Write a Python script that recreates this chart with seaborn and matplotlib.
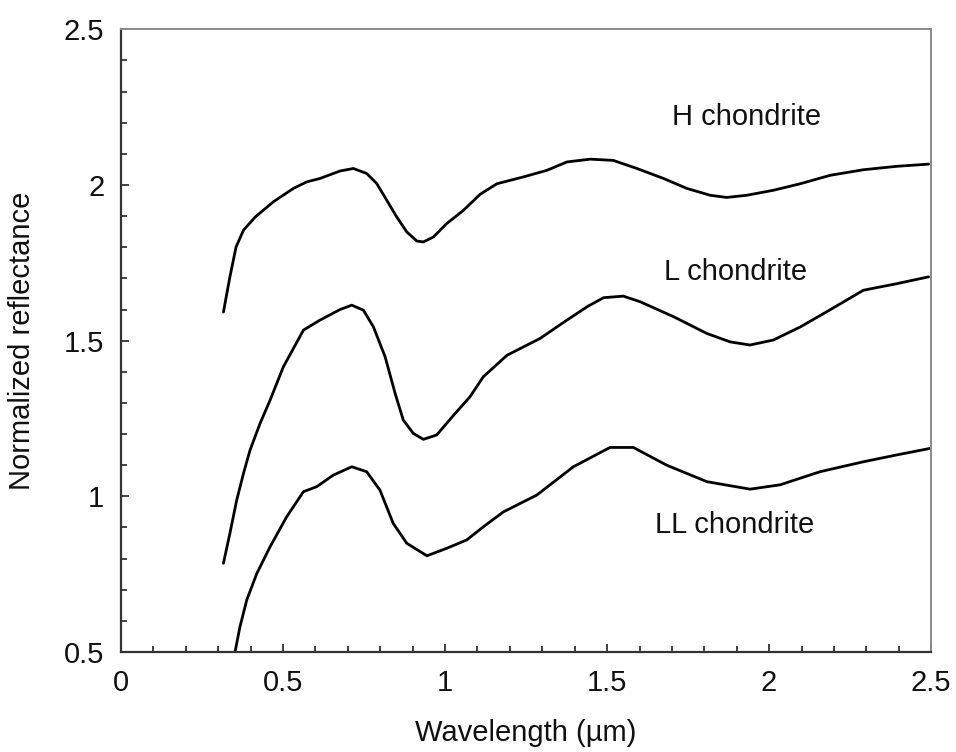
import pandas as pd
import seaborn as sns
import matplotlib.pyplot as plt
from matplotlib.ticker import MultipleLocator, FuncFormatter

# spectra (wavelength in um, normalized reflectance)
h_wave = [0.316, 0.336, 0.355, 0.378, 0.414, 0.470, 0.532, 0.573, 0.614, 0.645,
          0.676, 0.717, 0.758, 0.789, 0.820, 0.851, 0.882, 0.913, 0.933, 0.964,
          1.005, 1.057, 1.108, 1.160, 1.242, 1.314, 1.376, 1.448, 1.519, 1.592,
          1.674, 1.746, 1.818, 1.869, 1.931, 2.013, 2.096, 2.188, 2.291, 2.394,
          2.492]
h_refl = [1.592, 1.705, 1.801, 1.855, 1.897, 1.946, 1.989, 2.010, 2.021, 2.033,
          2.045, 2.053, 2.037, 2.005, 1.951, 1.897, 1.849, 1.820, 1.817, 1.833,
          1.876, 1.919, 1.970, 2.004, 2.026, 2.047, 2.074, 2.083, 2.079, 2.053,
          2.021, 1.989, 1.967, 1.960, 1.967, 1.983, 2.004, 2.031, 2.049, 2.060,
          2.067]

l_wave = [0.316, 0.336, 0.357, 0.378, 0.398, 0.429, 0.460, 0.501, 0.563, 0.614,
          0.676, 0.712, 0.748, 0.779, 0.815, 0.846, 0.871, 0.902, 0.933, 0.974,
          1.026, 1.077, 1.118, 1.191, 1.242, 1.293, 1.376, 1.440, 1.489, 1.550,
          1.602, 1.705, 1.808, 1.880, 1.941, 2.013, 2.096, 2.178, 2.291, 2.394,
          2.492]
l_refl = [0.785, 0.881, 0.988, 1.074, 1.148, 1.234, 1.309, 1.416, 1.534, 1.566,
          1.600, 1.614, 1.598, 1.544, 1.448, 1.330, 1.245, 1.202, 1.183, 1.197,
          1.260, 1.320, 1.384, 1.453, 1.480, 1.507, 1.566, 1.610, 1.638, 1.643,
          1.625, 1.577, 1.523, 1.496, 1.486, 1.502, 1.544, 1.593, 1.662, 1.683,
          1.705]

ll_wave = [0.352, 0.367, 0.388, 0.419, 0.460, 0.511, 0.563, 0.604, 0.655, 0.712,
           0.758, 0.799, 0.840, 0.882, 0.944, 1.005, 1.067, 1.118, 1.180, 1.283,
           1.396, 1.509, 1.581, 1.684, 1.808, 1.941, 2.034, 2.157, 2.291, 2.394,
           2.497]
ll_refl = [0.501, 0.581, 0.667, 0.752, 0.838, 0.934, 1.015, 1.031, 1.068, 1.095,
           1.079, 1.020, 0.913, 0.849, 0.809, 0.833, 0.860, 0.902, 0.950, 1.004,
           1.095, 1.157, 1.157, 1.100, 1.047, 1.023, 1.037, 1.079, 1.111, 1.133,
           1.154]

labels = ['H chondrite', 'L chondrite', 'LL chondrite']
label_x = [1.929, 1.895, 1.895]
label_y = [2.217, 1.721, 0.908]

frames = []
for name, w, r in zip(labels, [h_wave, l_wave, ll_wave], [h_refl, l_refl, ll_refl]):
    frames.append(pd.DataFrame({'wave': w, 'refl': r, 'type': name}))
df = pd.concat(frames, ignore_index=True)

sns.set_style('white')
plt.rcParams['font.family'] = ['Liberation Sans', 'DejaVu Sans']

fig = plt.figure(figsize=(9.56, 7.52), dpi=100)
ax = fig.add_axes([0.1266, 0.133, 0.8474, 0.828])

sns.lineplot(data=df, x='wave', y='refl', hue='type', units='type', estimator=None,
             sort=False, palette=['black'] * 3, linewidth=2.0, legend=False, ax=ax)
for line in ax.lines:
    line.set_solid_joinstyle('round')
    line.set_solid_capstyle('round')

for txt, x, y in zip(labels, label_x, label_y):
    ax.text(x, y, txt, fontsize=21, ha='center', va='center', color='#111111')

ax.set_xlim(0, 2.5)
ax.set_ylim(0.5, 2.5)
ax.xaxis.set_major_locator(MultipleLocator(0.5))
ax.xaxis.set_minor_locator(MultipleLocator(0.1))
ax.yaxis.set_major_locator(MultipleLocator(0.5))
ax.yaxis.set_minor_locator(MultipleLocator(0.1))
fmt = FuncFormatter(lambda v, p: ('%g' % v))
ax.xaxis.set_major_formatter(fmt)
ax.yaxis.set_major_formatter(fmt)

ax.tick_params(which='both', direction='in', top=False, right=False,
               bottom=True, left=True, colors='#333333', labelcolor='#111111',
               width=1.3, labelsize=21)
ax.tick_params(which='major', length=6, pad=12)
ax.tick_params(which='minor', length=4.5)

for side in ['left', 'bottom']:
    ax.spines[side].set_color('#333333')
    ax.spines[side].set_linewidth(1.6)
for side in ['top', 'right']:
    ax.spines[side].set_color('#8a8a8a')
    ax.spines[side].set_linewidth(1.4)

ax.set_xlabel('Wavelength (\u00b5m)', fontsize=21, labelpad=16, color='#111111')
ax.set_ylabel('Normalized reflectance', fontsize=21, labelpad=20, color='#111111')

fig.savefig('out.png', dpi=100)
